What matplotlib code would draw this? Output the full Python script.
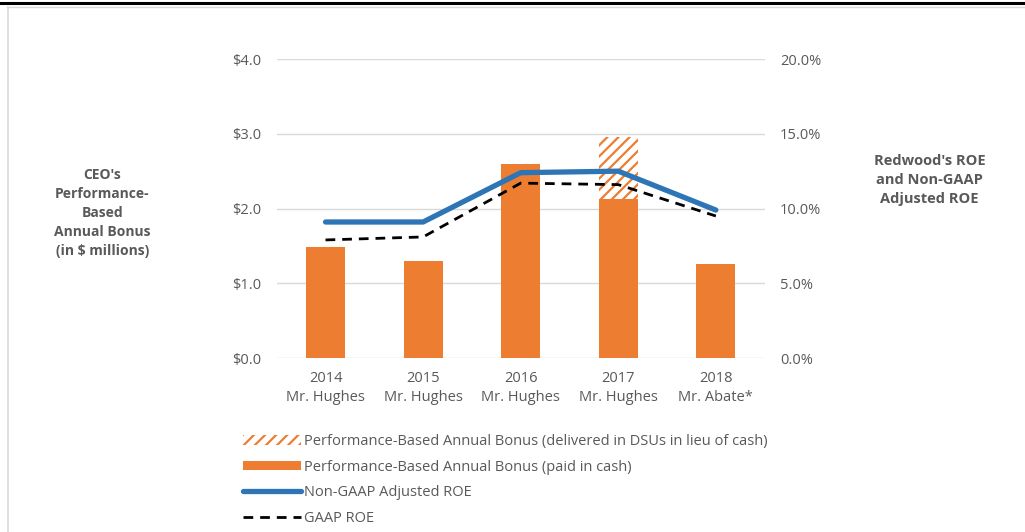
import matplotlib

matplotlib.use("Agg")

import matplotlib.pyplot as plt
from matplotlib.lines import Line2D
from matplotlib.patches import Patch
import numpy as np


years = ["2014", "2015", "2016", "2017", "2018"]
ceos = ["Mr. Hughes", "Mr. Hughes", "Mr. Hughes", "Mr. Hughes", "Mr. Abate*"]
bonus_cash = [1.49, 1.30, 2.60, 2.13, 1.26]
bonus_dsu = [0.0, 0.0, 0.0, 0.83, 0.0]
roe_non_gaap = [9.1, 9.1, 12.4, 12.5, 9.9]
roe_gaap = [7.9, 8.1, 11.7, 11.6, 9.5]

ORANGE = "#ED7D31"
BLUE = "#2E75B6"
GREY_TEXT = "#595959"

plt.rcParams["font.family"] = ["Open Sans", "DejaVu Sans"]
plt.rcParams["hatch.linewidth"] = 1.6
plt.rcParams["hatch.color"] = ORANGE

fig = plt.figure(figsize=(10.25, 5.32), dpi=100)
ax = fig.add_axes([0.270, 0.327, 0.476, 0.562])
ax2 = ax.twinx()

x = np.arange(len(years))
ax.bar(x, bonus_cash, width=0.4, color=ORANGE, zorder=2)
ax.bar(x, bonus_dsu, width=0.4, bottom=bonus_cash, facecolor="white",
       edgecolor=ORANGE, hatch="///", linewidth=0, zorder=2)

ax2.plot(x, roe_non_gaap, color=BLUE, linewidth=3.8, solid_capstyle="round", zorder=3)
ax2.plot(x, roe_gaap, color="black", linewidth=2.0, linestyle=(0, (3.5, 2.5)), zorder=3)

ax.set_xlim(-0.5, 4.5)
ax.set_ylim(0, 4)
ax2.set_ylim(0, 20)
ax.set_yticks([0, 1, 2, 3, 4])
ax.set_yticklabels(["$%.1f" % v for v in [0, 1, 2, 3, 4]])
ax2.set_yticks([0, 5, 10, 15, 20])
ax2.set_yticklabels(["%.1f%%" % v for v in [0, 5, 10, 15, 20]])
ax.set_xticks(x)
ax.set_xticklabels(["%s\n%s" % (y, c) for y, c in zip(years, ceos)], linespacing=1.45)

for a in (ax, ax2):
    for s in a.spines.values():
        s.set_visible(False)
    a.tick_params(length=0, labelsize=10.5, labelcolor=GREY_TEXT)
ax.tick_params(axis="y", pad=11)
ax2.tick_params(axis="y", pad=11)
ax.tick_params(axis="x", pad=9)
ax.yaxis.grid(True, color="#D9D9D9", linewidth=1.0, zorder=0)
ax.set_axisbelow(True)

fig.text(0.100, 0.600, "CEO's\nPerformance-\nBased\nAnnual Bonus\n(in $ millions)",
         ha="center", va="center", fontsize=10, fontweight="bold", color=GREY_TEXT,
         linespacing=1.45)
fig.text(0.907, 0.662, "Redwood's ROE\nand Non-GAAP\nAdjusted ROE",
         ha="center", va="center", fontsize=10.5, fontweight="bold", color=GREY_TEXT,
         linespacing=1.45)

handles = [
    Patch(facecolor="white", edgecolor=ORANGE, hatch="///", linewidth=0),
    Patch(facecolor=ORANGE, linewidth=0),
    Line2D([], [], color=BLUE, linewidth=3.8, solid_capstyle="round"),
    Line2D([], [], color="black", linewidth=2.0, linestyle=(0, (3.5, 2.5))),
]
labels = [
    "Performance-Based Annual Bonus (delivered in DSUs in lieu of cash)",
    "Performance-Based Annual Bonus (paid in cash)",
    "Non-GAAP Adjusted ROE",
    "GAAP ROE",
]
leg = fig.legend(handles, labels, loc="upper left", bbox_to_anchor=(0.231, 0.195),
                 frameon=False, fontsize=10.5, handlelength=4.0, handleheight=0.6,
                 handletextpad=0.2, labelspacing=0.72, borderaxespad=0)
for t in leg.get_texts():
    t.set_color(GREY_TEXT)

# page frame lines
fig.add_artist(Line2D([0, 1], [1 - 3 / 532, 1 - 3 / 532], transform=fig.transFigure,
                      color="black", linewidth=2.2))
fig.add_artist(Line2D([7 / 1025, 1], [1 - 7 / 532, 1 - 7 / 532], transform=fig.transFigure,
                      color="#D9D9D9", linewidth=1.0))
fig.add_artist(Line2D([7.5 / 1025, 7.5 / 1025], [0, 1 - 7 / 532], transform=fig.transFigure,
                      color="#D9D9D9", linewidth=1.2))

fig.savefig("out.png", dpi=100)
